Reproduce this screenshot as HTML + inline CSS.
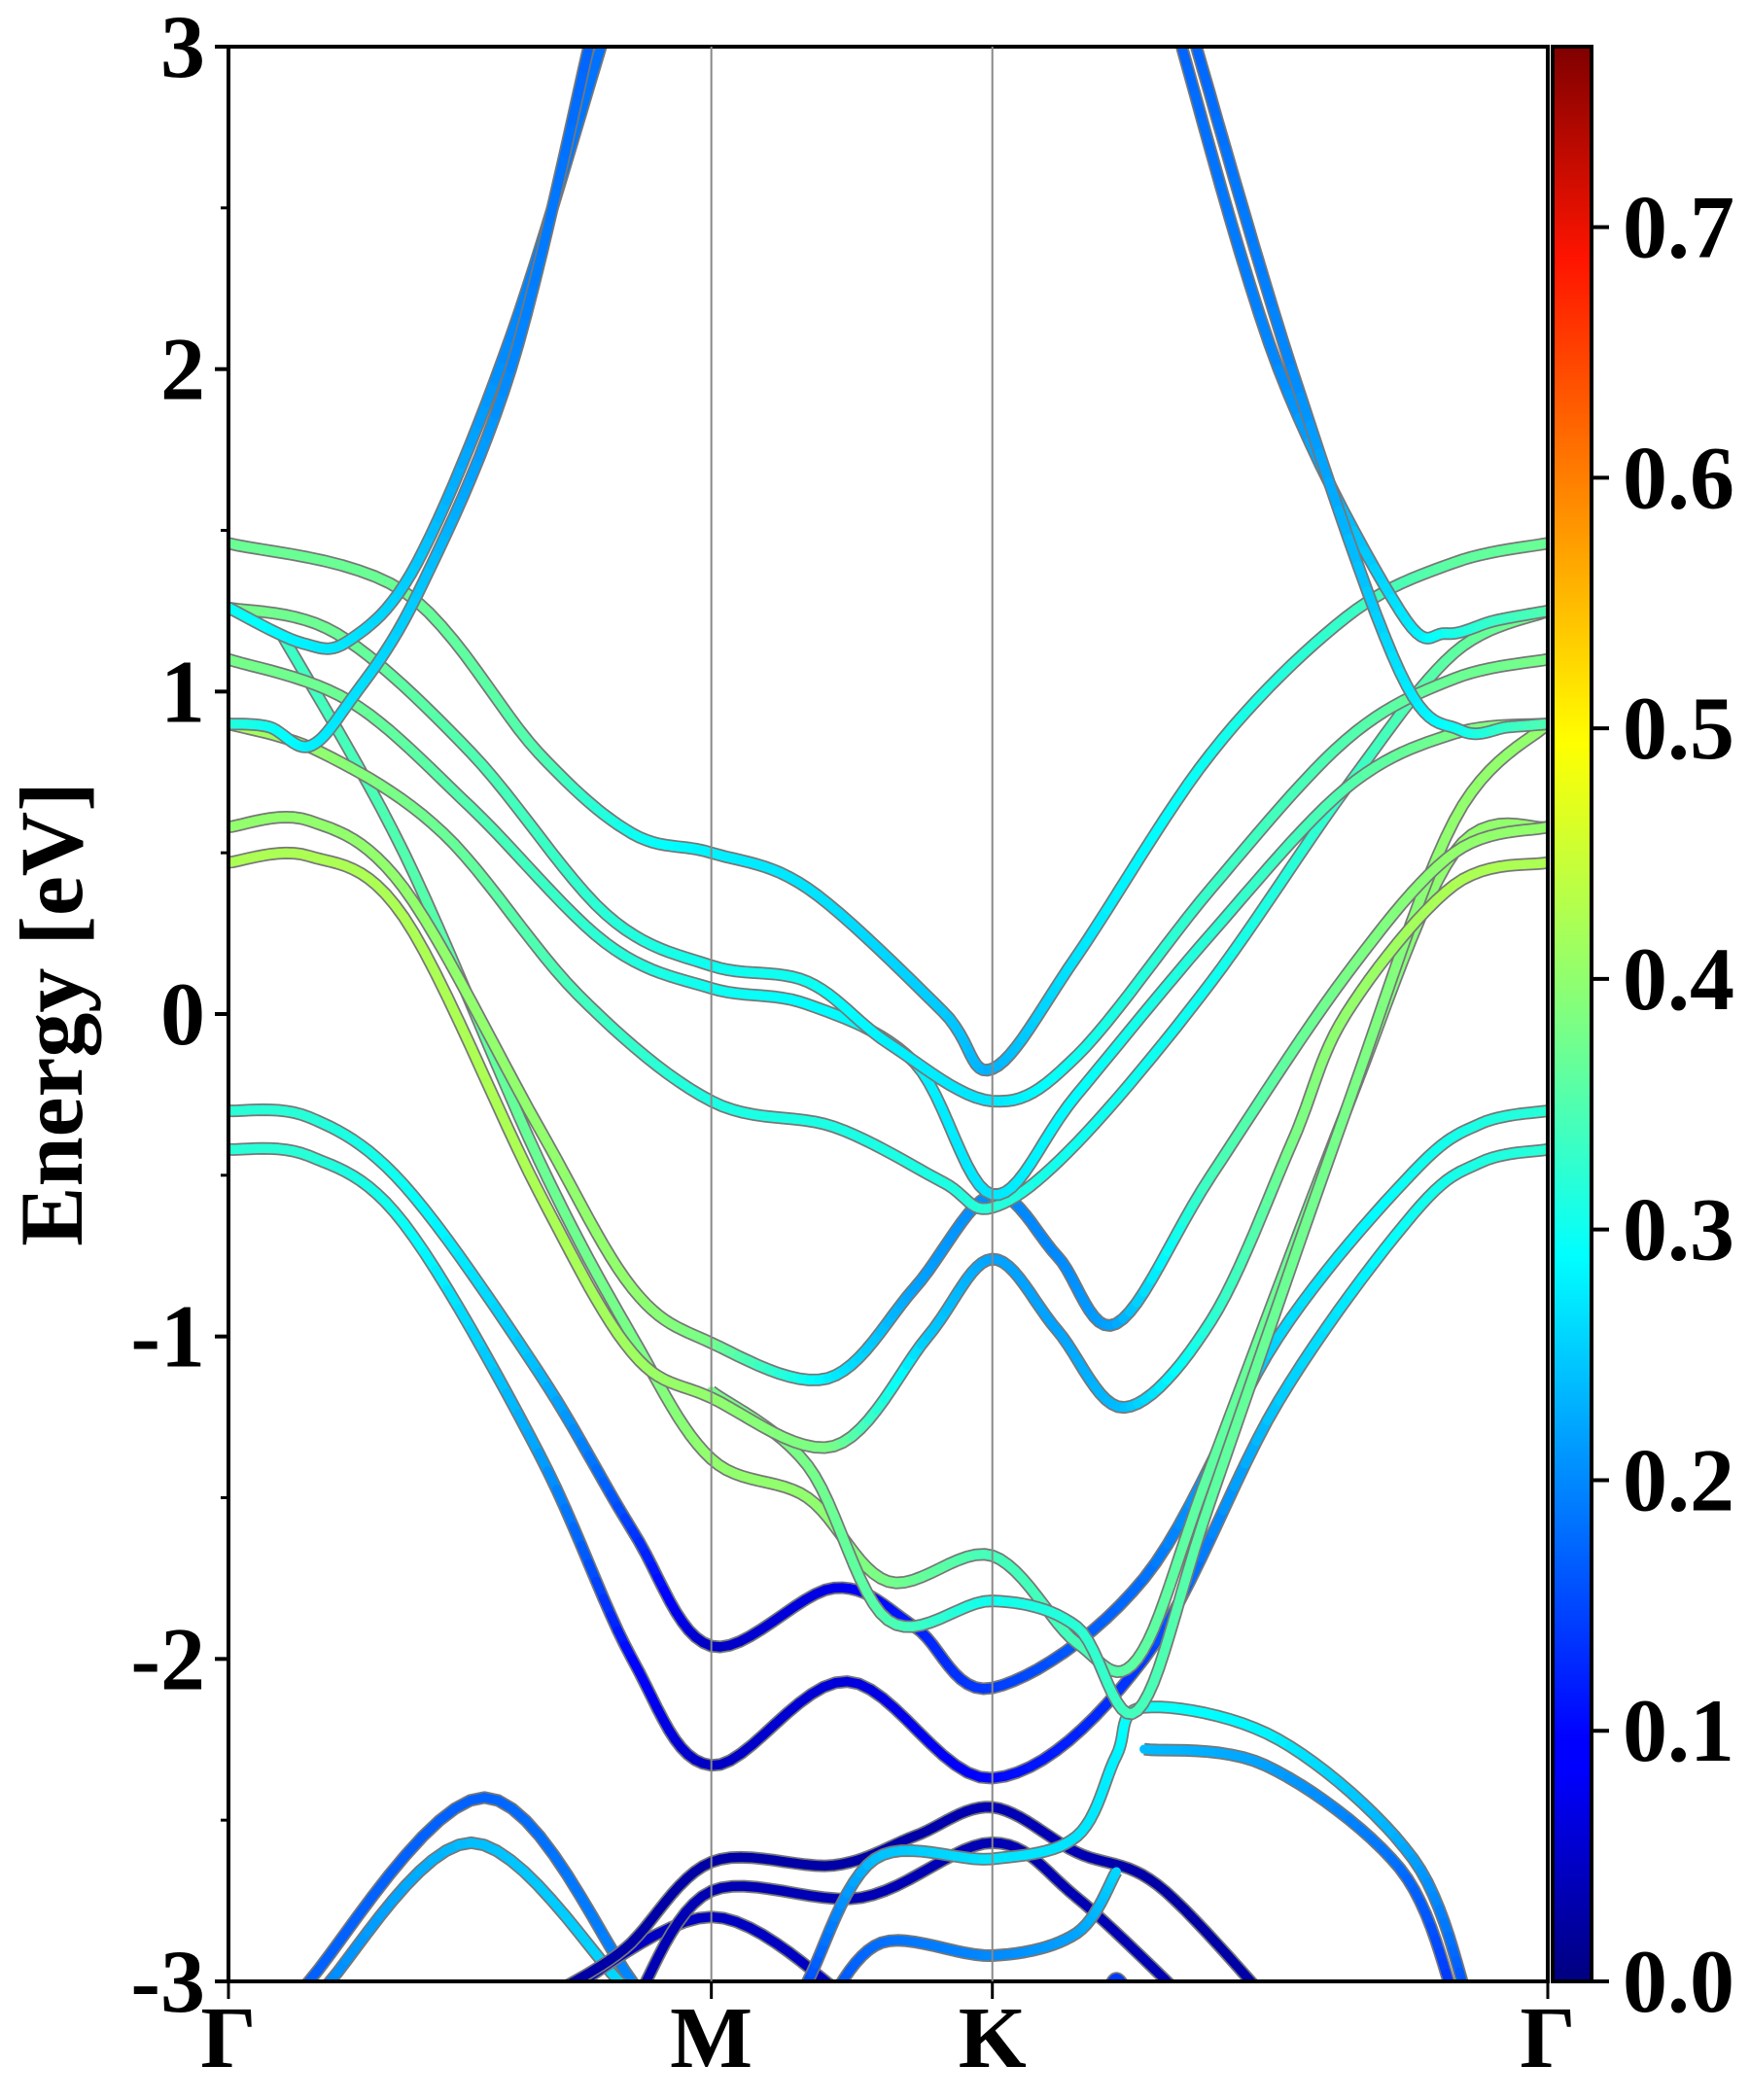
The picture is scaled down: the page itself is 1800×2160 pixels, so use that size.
<!DOCTYPE html>
<html><head><meta charset="utf-8"><style>
html,body{margin:0;padding:0;background:#fff}
svg{display:block}
text{font-family:"Liberation Serif",serif;font-weight:bold;fill:#000}
</style></head><body>
<svg id="chart" xmlns="http://www.w3.org/2000/svg" width="1800" height="2160" viewBox="0 0 1800 2160">
<defs>
<clipPath id="plotclip"><rect x="235" y="48" width="1357" height="1990"/></clipPath>
<linearGradient id="jetgrad" x1="0" y1="1" x2="0" y2="0">
<stop offset="0" stop-color="#00007f"/><stop offset="0.11" stop-color="#0000ff"/>
<stop offset="0.125" stop-color="#0000ff"/><stop offset="0.34" stop-color="#00dcff"/>
<stop offset="0.375" stop-color="#0ff"/><stop offset="0.5" stop-color="#80ff7f"/>
<stop offset="0.64" stop-color="#ffff00"/><stop offset="0.89" stop-color="#ff1400"/>
<stop offset="1" stop-color="#7f0000"/>
</linearGradient>
</defs>
<g id="bands" clip-path="url(#plotclip)"></g>
<g id="axes"></g>
</svg>
<script>
// ---- data ----
const kLabels = ["Γ","M","K","Γ"];
const kTicks = [0, 0.366, 0.579, 1];
const yTicks = [-3,-2,-1,0,1,2,3];
const yMinor = [-2.5,-1.5,-0.5,0.5,1.5,2.5];
const cbTicks = [0.0,0.1,0.2,0.3,0.4,0.5,0.6,0.7];
const cbMax = 0.772;

const b1 = [[0,1.46],[0.133,1.31],[0.235,0.81],[0.306,0.56],[0.366,0.50],[0.439,0.39],[0.541,0.01],[0.579,-0.17],[0.643,0.18],[0.745,0.81],[0.847,1.23],[0.929,1.40],[1,1.46]];
const w1 = [0.37,0.37,0.35,0.30,0.28,0.27,0.25,0.23,0.27,0.30,0.33,0.36,0.37];
const b2 = [[0,1.26],[0.082,1.18],[0.184,0.81],[0.286,0.31],[0.366,0.15],[0.439,0.10],[0.5,-0.09],[0.579,-0.27],[0.643,-0.13],[0.745,0.39],[0.847,0.85],[0.929,1.04],[1,1.10]];
const w2 = [0.38,0.37,0.35,0.32,0.30,0.30,0.28,0.27,0.30,0.33,0.35,0.37,0.38];
const b3 = [[0,1.10],[0.092,0.97],[0.184,0.64],[0.286,0.22],[0.366,0.08],[0.439,0.03],[0.520,-0.15],[0.579,-0.56],[0.643,-0.25],[0.745,0.25],[0.847,0.70],[0.929,0.87],[1,0.90]];
const w3 = [0.38,0.37,0.35,0.32,0.30,0.29,0.28,0.27,0.29,0.32,0.35,0.38,0.40];
const b4 = [[0,0.90],[0.071,0.81],[0.163,0.56],[0.265,0.06],[0.366,-0.27],[0.459,-0.35],[0.541,-0.52],[0.579,-0.60],[0.643,-0.40],[0.745,0.10],[0.847,0.70],[0.929,1.12],[1,1.25]];
const w4 = [0.42,0.40,0.37,0.34,0.31,0.31,0.31,0.32,0.30,0.30,0.33,0.36,0.38];
const b5 = [[0,0.58],[0.061,0.60],[0.133,0.39],[0.235,-0.35],[0.306,-0.85],[0.366,-1.02],[0.454,-1.13],[0.520,-0.85],[0.579,-0.56],[0.628,-0.75],[0.673,-0.96],[0.745,-0.50],[0.847,0.12],[0.929,0.50],[1,0.58]];
const w5 = [0.40,0.40,0.40,0.40,0.40,0.38,0.28,0.22,0.20,0.20,0.22,0.34,0.38,0.40,0.40];
const b6 = [[0,0.47],[0.061,0.49],[0.133,0.30],[0.235,-0.55],[0.306,-1.05],[0.366,-1.19],[0.459,-1.34],[0.530,-1.00],[0.579,-0.76],[0.628,-0.98],[0.679,-1.22],[0.745,-0.95],[0.806,-0.40],[0.847,0.00],[0.929,0.40],[1,0.47]];
const w6 = [0.42,0.42,0.42,0.42,0.41,0.40,0.38,0.25,0.22,0.22,0.24,0.32,0.38,0.40,0.42,0.42];
const b7 = [[0.04,1.18],[0.133,0.50],[0.235,-0.45],[0.306,-1.0],[0.366,-1.38],[0.439,-1.50],[0.5,-1.76],[0.579,-1.68],[0.643,-1.95],[0.689,-2.00],[0.745,-1.40],[0.847,-0.30],[0.929,0.50],[1,0.58]];
const w7 = [0.33,0.35,0.37,0.38,0.40,0.40,0.38,0.34,0.34,0.36,0.36,0.38,0.40,0.40];
const b7b = [[0.366,-1.17],[0.439,-1.40],[0.5,-1.88],[0.579,-1.82],[0.643,-1.90],[0.689,-2.16],[0.745,-1.5],[0.847,-0.3],[0.929,0.6],[1,0.9]];
const w7b = [0.38,0.38,0.35,0.30,0.32,0.34,0.36,0.38,0.40,0.40];
const b8 = [[0,-0.30],[0.061,-0.32],[0.133,-0.53],[0.235,-1.11],[0.306,-1.60],[0.366,-1.96],[0.459,-1.78],[0.520,-1.90],[0.579,-2.09],[0.694,-1.75],[0.796,-1.00],[0.898,-0.49],[0.949,-0.34],[1,-0.30]];
const w8 = [0.32,0.32,0.30,0.24,0.14,0.05,0.08,0.12,0.14,0.18,0.26,0.30,0.31,0.32];
const b9 = [[0,-0.42],[0.061,-0.44],[0.133,-0.65],[0.235,-1.36],[0.306,-2.0],[0.366,-2.33],[0.469,-2.07],[0.579,-2.37],[0.694,-2.00],[0.796,-1.20],[0.898,-0.62],[0.949,-0.46],[1,-0.42]];
const w9 = [0.32,0.32,0.30,0.22,0.10,0.05,0.07,0.10,0.14,0.25,0.30,0.31,0.32];
const s1 = [[0,1.26],[0.056,1.15],[0.092,1.16],[0.143,1.40],[0.214,2.10],[0.286,3.05]];
const ws1 = [0.30,0.28,0.27,0.25,0.20,0.18];
const s2 = [[0,0.90],[0.031,0.89],[0.061,0.83],[0.092,0.97],[0.143,1.30],[0.214,2.0],[0.276,3.05]];
const ws2 = [0.32,0.30,0.28,0.27,0.25,0.20,0.17];
const r1 = [[0.719,3.05],[0.796,2.0],[0.888,1.25],[0.923,1.18],[0.96,1.22],[1,1.25]];
const wr1 = [0.17,0.20,0.27,0.30,0.33,0.35];
const r2 = [[0.730,3.05],[0.806,2.0],[0.888,1.06],[0.934,0.88],[0.97,0.89],[1,0.90]];
const wr2 = [0.17,0.20,0.27,0.30,0.33,0.35];
const l1 = [[0.04,-3.15],[0.061,-3.0],[0.194,-2.43],[0.306,-3.0],[0.33,-3.15]];
const wl1 = [0.17,0.17,0.17,0.2,0.2];
const l2 = [[0.06,-3.15],[0.077,-3.0],[0.184,-2.57],[0.296,-3.0],[0.32,-3.15]];
const wl2 = [0.18,0.2,0.24,0.26,0.26];
const n1 = [[0.24,-3.05],[0.30,-2.90],[0.366,-2.63],[0.459,-2.64],[0.520,-2.55],[0.579,-2.46],[0.643,-2.60],[0.704,-2.70],[0.786,-3.05]];
const wn1 = [0.03,0.03,0.03,0.03,0.03,0.04,0.04,0.03,0.03];
const n2 = [[0.31,-3.05],[0.366,-2.72],[0.480,-2.74],[0.579,-2.57],[0.643,-2.74],[0.724,-3.05]];
const wn2 = [0.04,0.04,0.04,0.04,0.04,0.04];
const n3 = [[0.25,-3.05],[0.366,-2.80],[0.469,-3.05]];
const wn3 = [0.05,0.05,0.05];
const n4 = [[0.42,-3.15],[0.439,-3.0],[0.490,-2.62],[0.579,-2.62],[0.643,-2.55],[0.673,-2.30],[0.694,-2.15],[0.796,-2.25],[0.898,-2.62],[0.939,-3.05]];
const wn4 = [0.14,0.15,0.24,0.27,0.27,0.28,0.30,0.28,0.22,0.15];
const n5 = [[0.694,-2.28],[0.786,-2.33],[0.888,-2.65],[0.929,-3.05]];
const wn5 = [0.24,0.22,0.18,0.13];
const n6 = [[0.45,-3.1],[0.495,-2.88],[0.579,-2.92],[0.643,-2.85],[0.673,-2.66]];
const wn6 = [0.15,0.18,0.20,0.22,0.26];
const n7 = [[0.66,-3.1],[0.673,-2.99],[0.69,-3.1]];
const wn7 = [0.14,0.14,0.14];

const bands = [[l1,wl1],[l2,wl2],[n3,wn3],[n2,wn2],[n1,wn1],[n6,wn6],[n4,wn4],[n5,wn5],[n7,wn7],[b9,w9],[b8,w8],[b7,w7],[b7b,w7b],[b6,w6],[b5,w5],[b4,w4],[b3,w3],[b2,w2],[b1,w1],[s1,ws1],[s2,ws2],[r1,wr1],[r2,wr2]];

// ---- scales ----
const X0=235, X1=1592, Y0=48, Y1=2038;
const xs = k => X0 + k*(X1-X0);
const ys = e => Y0 + (3-e)/6*(Y1-Y0);
const NS="http://www.w3.org/2000/svg";
function jet(v){
  const t=Math.max(0,Math.min(1,v/cbMax));
  const f=(a)=>Math.max(0,Math.min(1,a));
  const r=f(Math.min(4*t-1.5,-4*t+4.5)), g=f(Math.min(4*t-0.5,-4*t+3.5)), b=f(Math.min(4*t+0.5,-4*t+2.5));
  return `rgb(${Math.round(r*255)},${Math.round(g*255)},${Math.round(b*255)})`;
}
function mk(tag,attrs,parent){const e=document.createElementNS(NS,tag);for(const a in attrs)e.setAttribute(a,attrs[a]);parent.appendChild(e);return e;}
function catmull(pts,steps){
  const out=[];
  for(let i=0;i<pts.length-1;i++){
    const p0=pts[Math.max(0,i-1)],p1=pts[i],p2=pts[i+1],p3=pts[Math.min(pts.length-1,i+2)];
    for(let s=0;s<steps;s++){
      const t=s/steps,t2=t*t,t3=t2*t;
      out.push([0.5*((2*p1[0])+(-p0[0]+p2[0])*t+(2*p0[0]-5*p1[0]+4*p2[0]-p3[0])*t2+(-p0[0]+3*p1[0]-3*p2[0]+p3[0])*t3),
                0.5*((2*p1[1])+(-p0[1]+p2[1])*t+(2*p0[1]-5*p1[1]+4*p2[1]-p3[1])*t2+(-p0[1]+3*p1[1]-3*p2[1]+p3[1])*t3),
                p1[2]+(p2[2]-p1[2])*t]);
    }
  }
  const l=pts[pts.length-1];out.push([l[0],l[1],l[2]]);
  return out;
}
const gB=document.getElementById('bands');
bands.forEach((bw,bi)=>{
  const pts=bw[0].map((p,i)=>[xs(p[0]),ys(p[1]),bw[1][i]]);
  const sm=catmull(pts,12);
  const g=mk('g',{},gB);
  
  
  mk('polyline',{points:sm.map(p=>p[0].toFixed(1)+','+p[1].toFixed(1)).join(' '),fill:'none',stroke:'#777','stroke-width':13,'stroke-linejoin':'round'},g);
  for(let i=0;i<sm.length-1;i++){
    mk('line',{x1:sm[i][0].toFixed(1),y1:sm[i][1].toFixed(1),x2:sm[i+1][0].toFixed(1),y2:sm[i+1][1].toFixed(1),stroke:jet((sm[i][2]+sm[i+1][2])/2),'stroke-width':9.5,'stroke-linecap':'round'},g);
  }
});
// ---- axes ----
const gA=document.getElementById('axes');
kTicks.slice(1,3).forEach(k=>{const l=mk('line',{x1:xs(k),x2:xs(k),y1:Y0,y2:Y1,stroke:'#888','stroke-width':2},gB.parentNode);});
const frame=mk('rect',{x:X0,y:Y0,width:X1-X0,height:Y1-Y0,fill:'none',stroke:'#000','stroke-width':4},gA);

yTicks.forEach(e=>{
  mk('line',{x1:X0-14,x2:X0,y1:ys(e),y2:ys(e),stroke:'#000','stroke-width':4},gA);
  const t=mk('text',{x:X0-24,y:ys(e)+31,'text-anchor':'end','font-size':92},gA);
  t.textContent=String(e);
  
  
});
yMinor.forEach(e=>mk('line',{x1:X0-8,x2:X0,y1:ys(e),y2:ys(e),stroke:'#000','stroke-width':3},gA));
kTicks.forEach((k,i)=>{
  mk('line',{x1:xs(k),x2:xs(k),y1:Y1,y2:Y1+18,stroke:'#000','stroke-width':3},gA);
  const t=mk('text',{x:xs(k),y:Y1+88,'text-anchor':'middle','font-size':90},gA);
  t.textContent=kLabels[i];
  
  
});
const yl=mk('text',{x:0,y:0,'text-anchor':'middle','font-size':92,transform:`translate(84,${(Y0+Y1)/2}) rotate(-90)`},gA);
yl.textContent='Energy [eV]';


// ---- colorbar ----
const CX=1597, CW=40;
const cb=mk('rect',{x:CX,y:Y0,width:CW,height:Y1-Y0,fill:'url(#jetgrad)',stroke:'#000','stroke-width':4},gA);


const cy=v=>Y1-(v/cbMax)*(Y1-Y0);
cbTicks.forEach(v=>{
  mk('line',{x1:CX+CW,x2:CX+CW+18,y1:cy(v),y2:cy(v),stroke:'#000','stroke-width':4},gA);
  const t=mk('text',{x:CX+CW+32,y:cy(v)+31,'font-size':92},gA);
  t.textContent=v.toFixed(1);
  
  
});
</script>
</body></html>
